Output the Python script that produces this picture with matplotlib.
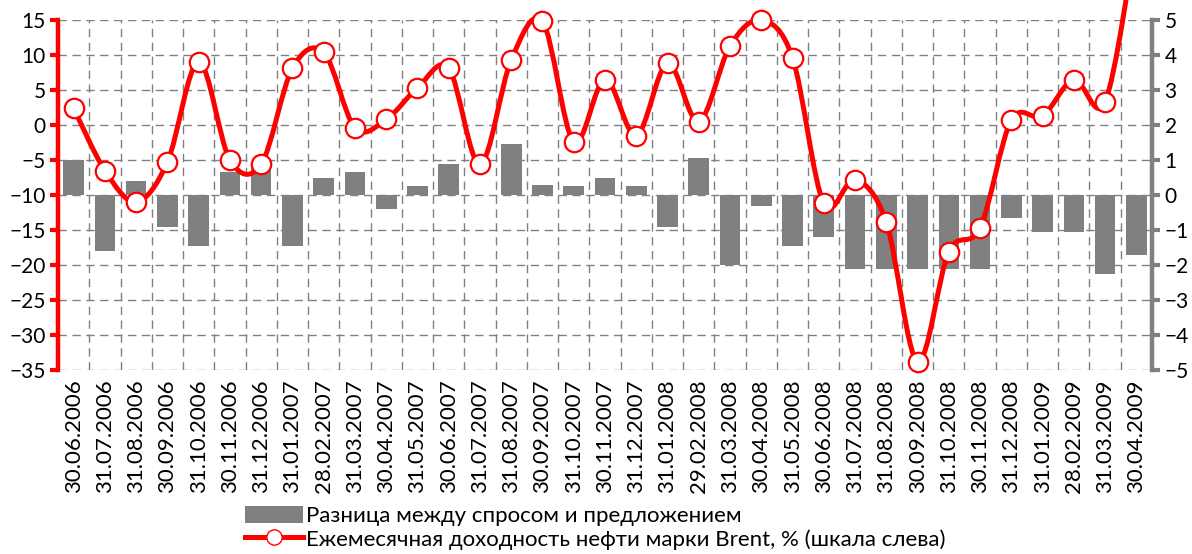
import matplotlib
matplotlib.use('Agg')
import matplotlib.pyplot as plt
from matplotlib.path import Path
from matplotlib.patches import PathPatch
from matplotlib.lines import Line2D
from matplotlib.patches import Patch

plt.rcParams['font.family'] = ['Lato', 'DejaVu Sans']

dates = ['30.06.2006', '31.07.2006', '31.08.2006', '30.09.2006', '31.10.2006',
         '30.11.2006', '31.12.2006', '31.01.2007', '28.02.2007', '31.03.2007',
         '30.04.2007', '31.05.2007', '30.06.2007', '31.07.2007', '31.08.2007',
         '30.09.2007', '31.10.2007', '30.11.2007', '31.12.2007', '31.01.2008',
         '29.02.2008', '31.03.2008', '30.04.2008', '31.05.2008', '30.06.2008',
         '31.07.2008', '31.08.2008', '30.09.2008', '31.10.2008', '30.11.2008',
         '31.12.2008', '31.01.2009', '28.02.2009', '31.03.2009', '30.04.2009']

# monthly Brent return, % (left scale)
brent = [2.4, -6.5, -11.0, -5.3, 9.0, -5.0, -5.6, 8.1, 10.4, -0.4,
         0.8, 5.3, 8.1, -5.6, 9.3, 14.8, -2.4, 6.5, -1.5, 8.8,
         0.5, 11.3, 15.0, 9.6, -11.2, -7.8, -13.9, -33.8, -18.1, -14.7,
         0.7, 1.3, 6.5, 3.3, 27.0]

# demand - supply gap (right scale)
gap = [1.0, -1.6, 0.4, -0.9, -1.45, 0.65, 0.8, -1.45, 0.5, 0.65,
       -0.4, 0.25, 0.9, 0.0, 1.45, 0.3, 0.25, 0.5, 0.25, -0.9,
       1.05, -2.0, -0.3, -1.45, -1.2, -2.1, -2.1, -2.1, -2.1, -2.1,
       -0.65, -1.05, -1.05, -2.25, -1.7]

RED = '#FF0000'
GRAY = '#808080'

fig = plt.figure(figsize=(11.92, 5.54), dpi=100)
ax_bar = fig.add_axes([58 / 1192, 1 - 370 / 554, (1152 - 58) / 1192, 350 / 554])
ax_line = ax_bar.twinx()

x = list(range(len(dates)))

# bars on the right scale
ax_bar.bar(x, gap, width=0.66, color=GRAY, zorder=2)
ax_bar.set_ylim(-5, 5)
ax_bar.set_yticks(range(-5, 6))
ax_bar.set_xlim(-0.5, len(dates) - 0.5)
ax_bar.set_axisbelow(True)
ax_bar.grid(axis='y', color=GRAY, linestyle=(0, (6, 4)), linewidth=1)
ax_bar.set_xticks([i + 0.5 for i in x[:-1]], minor=True)
ax_bar.grid(axis='x', which='minor', color=GRAY, linestyle=(0, (6, 4)), linewidth=1)
ax_bar.set_xticks(x)
ax_bar.set_xticklabels(dates, rotation=90, fontsize=16)
ax_bar.tick_params(axis='x', which='both', length=0, pad=7)

# smoothed line (Excel style cubic bezier through the points)
n = len(brent)
verts = [(x[0], brent[0])]
codes = [Path.MOVETO]
for i in range(n - 1):
    p0 = (x[i - 1], brent[i - 1]) if i > 0 else (x[i], brent[i])
    p1 = (x[i], brent[i])
    p2 = (x[i + 1], brent[i + 1])
    p3 = (x[i + 2], brent[i + 2]) if i + 2 < n else p2
    c1 = (p1[0] + (p2[0] - p0[0]) / 6, p1[1] + (p2[1] - p0[1]) / 6)
    c2 = (p2[0] - (p3[0] - p1[0]) / 6, p2[1] - (p3[1] - p1[1]) / 6)
    verts += [c1, c2, p2]
    codes += [Path.CURVE4] * 3
curve = PathPatch(Path(verts, codes), facecolor='none', edgecolor=RED,
                  linewidth=3.6, capstyle='round', joinstyle='round',
                  clip_on=False, zorder=3)
ax_line.add_patch(curve)
ax_line.plot(x[:-1], brent[:-1], linestyle='none', marker='o', markersize=14,
             markerfacecolor='white', markeredgecolor=RED, markeredgewidth=1.6,
             zorder=4, clip_on=False)
ax_line.set_ylim(-35, 15)
ax_line.set_yticks(range(-35, 16, 5))

# axis sides: line scale on the left, bar scale on the right
ax_line.yaxis.tick_left()
ax_line.yaxis.set_label_position('left')
ax_bar.yaxis.tick_right()
ax_bar.yaxis.set_label_position('right')

for s in ['top', 'bottom']:
    ax_bar.spines[s].set_visible(False)
    ax_line.spines[s].set_visible(False)
ax_bar.spines['left'].set_visible(False)
ax_line.spines['right'].set_visible(False)
ax_bar.spines['right'].set_visible(False)

ax_line.spines['left'].set_color(RED)
ax_line.spines['left'].set_linewidth(3.2)
ax_line.tick_params(axis='y', colors=RED, width=3, length=6, labelsize=15,
                    labelcolor='black', pad=3)

# gray right axis drawn as a line so it sits over the bars
ax_line.add_line(Line2D([1, 1], [0, 1], transform=ax_line.transAxes,
                        color=GRAY, linewidth=3.2, clip_on=False, zorder=5))
ax_bar.tick_params(axis='y', colors=GRAY, width=3, length=6, labelsize=15,
                   labelcolor='black', pad=3)

handles = [Patch(facecolor=GRAY, edgecolor='none'),
           Line2D([], [], color=RED, linewidth=3.6, marker='o', markersize=11,
                  markerfacecolor='white', markeredgecolor=RED)]
labels = ['Разница между спросом и предложением',
          'Ежемесячная доходность нефти марки Brent, % (шкала слева)']
fig.legend(handles, labels, loc='upper left', bbox_to_anchor=(234 / 1192, 1 - 495 / 554),
           frameon=False, fontsize=16, handlelength=2.6, handleheight=0.8,
           handletextpad=0.15, labelspacing=0.12, borderpad=0)

fig.savefig('out.png', dpi=100)
